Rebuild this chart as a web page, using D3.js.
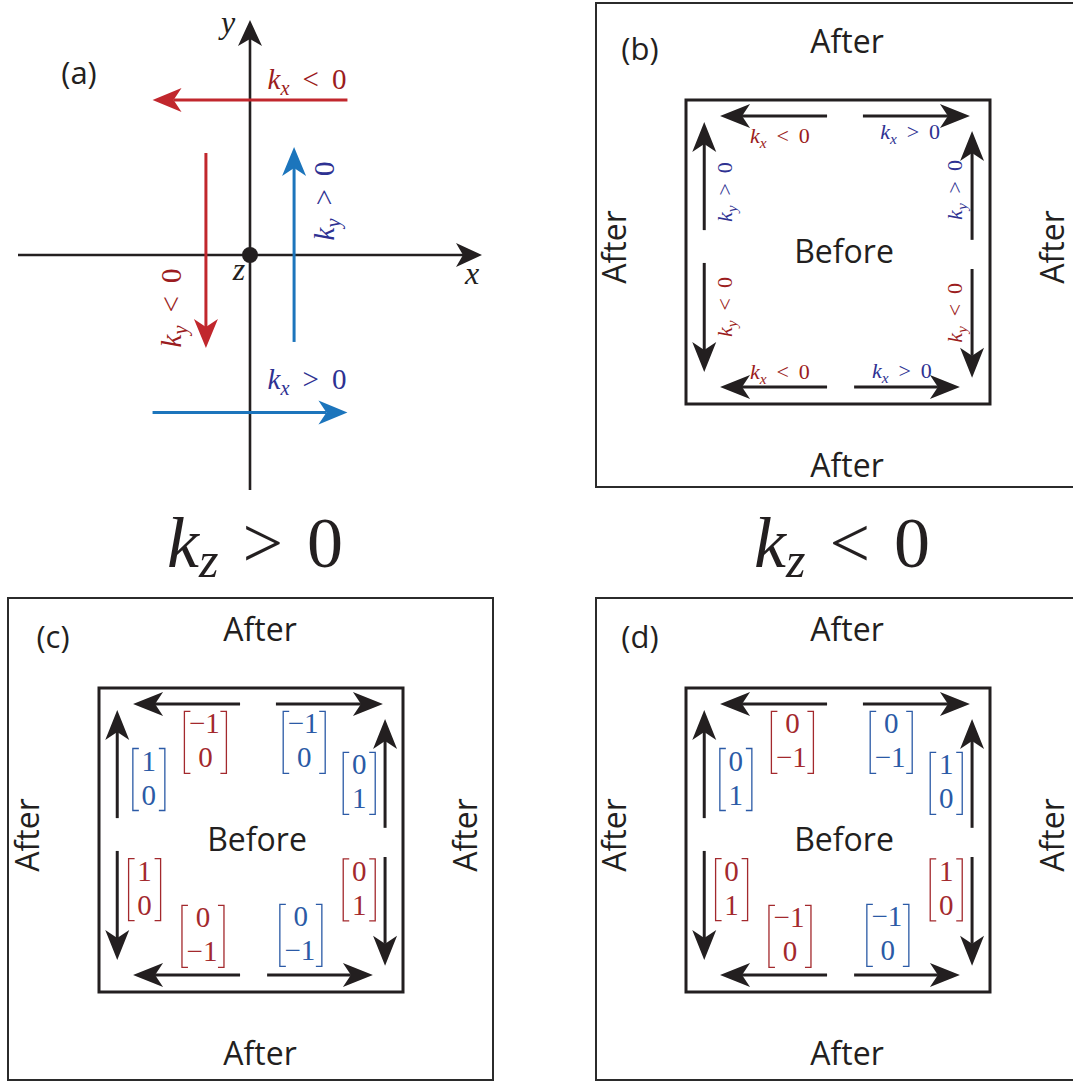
<!DOCTYPE html>
<html>
<head>
<meta charset="utf-8">
<title></title>
<style>
  body { margin: 0; background: #fff; }
  .sans { font-family: "Open Sans", sans-serif; fill: #231f20; }
</style>
</head>
<body>
<script src="https://cdnjs.cloudflare.com/ajax/libs/d3/7.8.5/d3.min.js"></script>
<script>

var w = 1073;
var h = 1081;
var serifFont = "'Liberation Serif', 'Times New Roman', 'DejaVu Serif', serif";

// ---------- data ----------
// panel (a): wave-vector arrows in axis units, [x1, y1, x2, y2]
var aArrowNames = ["kx<0", "ky<0", "ky>0", "kx>0"];
var aArrowSigns = ["neg", "neg", "pos", "pos"];
var aArrowPaths = [[0.42, 0.66, -0.42, 0.66],
                   [-0.19, 0.434, -0.19, -0.396],
                   [0.19, -0.37, 0.19, 0.46],
                   [-0.42, -0.67, 0.42, -0.67]];

// boxes (b)-(d): edge arrows in inner-box units (0..100)
var edgeArrows = [[46.4, 5.3, 11.2, 5.3],
                  [58.2, 5.3, 93.4, 5.3],
                  [6.0, 42.8, 6.0, 7.2],
                  [6.0, 53.6, 6.0, 89.5],
                  [94.1, 46.0, 94.1, 10.2],
                  [94.1, 55.6, 94.1, 91.4],
                  [46.4, 94.4, 11.2, 94.4],
                  [55.3, 94.4, 90.1, 94.4]];

// (b) labels: component, relation, rotated?
var bLabelSub = ["x", "x", "y", "y", "y", "y", "x", "x"];
var bLabelOp = ["<", ">", ">", "<", ">", "<", "<", ">"];
var bLabelRot = [false, false, true, true, true, true, false, false];
var bLabelPos = [[30.9, 11.8], [73.7, 10.5], [12.8, 30.3], [12.8, 68.1],
                 [88.5, 29.6], [88.5, 70.0], [30.9, 89.5], [71.0, 89.1]];

// (c) and (d) vectors
var matrixSlots = [[35.0, 17.9], [67.5, 17.9], [16.4, 30.1], [85.6, 31.4],
                   [15.0, 66.3], [34.2, 81.7], [66.4, 81.4], [85.6, 66.4]];
var matrixSigns = ["neg", "pos", "pos", "pos", "neg", "neg", "pos", "neg"];
var cMatrices = [["−1", "0"], ["−1", "0"], ["1", "0"], ["0", "1"],
                 ["1", "0"], ["0", "−1"], ["0", "−1"], ["0", "1"]];
var dMatrices = [["0", "−1"], ["0", "−1"], ["0", "1"], ["1", "0"],
                 ["0", "1"], ["−1", "0"], ["−1", "0"], ["1", "0"]];

var panelTags = ["(b)", "(c)", "(d)"];
var caseLabels = [">", "<"];

// ---------- style ----------
var arrowCol = { neg: "#c1272d", pos: "#1c75bc" };
var textCol = { neg: "#9b1c20", pos: "#2e3192" };
var matCol = { neg: "#a3292d", pos: "#2b5aa6" };
var ink = "#231f20";

var svg = d3.select("body").append("svg")
    .attr("width", w)
    .attr("height", h);

// arrowhead: tip at origin pointing +x
function headPath(L, hw, notch) {
    return "M0,0 L" + (-L) + "," + (-hw) + " L" + (-notch) + ",0 L" + (-L) + "," + hw + " Z";
}

function drawArrow(g, x1, y1, x2, y2, color, sw, L, hw, notch) {
    var ang = Math.atan2(y2 - y1, x2 - x1);
    var ex = x2 - Math.cos(ang) * notch, ey = y2 - Math.sin(ang) * notch;
    g.append("line")
        .attr("x1", x1).attr("y1", y1)
        .attr("x2", ex).attr("y2", ey)
        .attr("stroke", color)
        .attr("stroke-width", sw);
    g.append("path")
        .attr("d", headPath(L, hw, notch))
        .attr("fill", color)
        .attr("transform", "translate(" + x2 + "," + y2 + ") rotate(" + (ang * 180 / Math.PI) + ")");
}

// k_sub op 0, centered at (x, y) (y = baseline)
function mathLabel(g, x, y, sub, op, size, color, rot) {
    var t = g.append("text")
        .attr("font-family", serifFont)
        .attr("text-anchor", "middle")
        .attr("fill", color)
        .attr("font-size", size);
    if (rot) {
        t.attr("transform", "translate(" + x + "," + y + ") rotate(-90)");
    } else {
        t.attr("x", x).attr("y", y);
    }
    t.append("tspan").attr("font-style", "italic").text("k");
    t.append("tspan").attr("font-style", "italic")
        .attr("font-size", size * 0.7)
        .attr("dy", size * 0.22).text(sub);
    t.append("tspan").attr("dy", -size * 0.22)
        .text("\u2005\u2009" + op + "\u2005\u20090");
    return t;
}

// ---------- panel (a) ----------
var xA = d3.scaleLinear().domain([-1, 1]).range([18, 482]);
var yA = d3.scaleLinear().domain([-1, 1]).range([490, 20]);
var gA = svg.append("g");

drawArrow(gA, xA(-1), yA(0), xA(1), yA(0), ink, 2.6, 26, 12, 19);
drawArrow(gA, xA(0), yA(-1), xA(0), yA(1), ink, 2.6, 26, 12, 19);

aArrowPaths.forEach(function(p, i) {
    drawArrow(gA, xA(p[0]), yA(p[1]), xA(p[2]), yA(p[3]),
        arrowCol[aArrowSigns[i]], 3, 29, 12, 21);
});

gA.append("circle")
    .attr("cx", xA(0)).attr("cy", yA(0)).attr("r", 8)
    .attr("fill", ink);

[["y", -22, 13], ["x", xA(1) - xA(0) - 10, 29], ["z", -11, 25]].forEach(function(a) {
    gA.append("text")
        .attr("font-family", serifFont)
        .attr("x", xA(0) + a[1]).attr("y", yA(0) + (a[0] === "y" ? yA(1) - yA(0) : 0) + a[2])
        .attr("font-style", "italic").attr("font-size", 32).attr("fill", ink)
        .attr("text-anchor", "middle").text(a[0]);
});

gA.append("text").attr("class", "sans")
    .attr("x", 79).attr("y", 84)
    .attr("text-anchor", "middle").attr("font-size", 31)
    .text("(a)");

mathLabel(gA, 307, 89, "x", "<", 29, textCol.neg, false);
mathLabel(gA, 307, 389, "x", ">", 29, textCol.pos, false);
mathLabel(gA, 334, 201, "y", ">", 29, textCol.pos, true);
mathLabel(gA, 181, 308, "y", "<", 29, textCol.neg, true);

// ---------- k_z captions ----------
caseLabels.forEach(function(op, i) {
    var cx = i === 0 ? 255 : 842;
    var t = svg.append("text")
        .attr("font-family", serifFont)
        .attr("x", cx).attr("y", 567)
        .attr("text-anchor", "middle")
        .attr("font-size", 72)
        .attr("fill", ink);
    t.append("tspan").attr("font-style", "italic").text("k");
    t.append("tspan").attr("font-style", "italic").attr("font-size", 50)
        .attr("dy", 10).text("z");
    t.append("tspan").attr("dy", -10).text("\u2004" + op + "\u20040");
});

// ---------- panels (b), (c), (d) ----------
var innerOrigins = [[686, 100], [99, 688], [686, 688]];
var outerBoxes = [[596, 3, 488, 484], [8, 598, 485, 482], [596, 598, 488, 482]];
var innerSize = 304;

panelTags.forEach(function(tag, p) {
    var g = svg.append("g");
    var ox = innerOrigins[p][0], oy = innerOrigins[p][1];
    var sx = d3.scaleLinear().domain([0, 100]).range([ox, ox + innerSize]);
    var sy = d3.scaleLinear().domain([0, 100]).range([oy, oy + innerSize]);
    var ob = outerBoxes[p];

    g.append("rect")
        .attr("x", ob[0]).attr("y", ob[1])
        .attr("width", ob[2]).attr("height", ob[3])
        .attr("fill", "none").attr("stroke", "#2b2b2b").attr("stroke-width", 2);

    g.append("rect")
        .attr("x", sx(0)).attr("y", sy(0))
        .attr("width", innerSize).attr("height", innerSize)
        .attr("fill", "none").attr("stroke", ink).attr("stroke-width", 3);

    edgeArrows.forEach(function(a) {
        drawArrow(g, sx(a[0]), sy(a[1]), sx(a[2]), sy(a[3]), ink, 3, 30, 12, 22);
    });

    // text labels
    g.append("text").attr("class", "sans")
        .attr("x", ox - 46).attr("y", oy - 40)
        .attr("text-anchor", "middle").attr("font-size", 31).text(tag);
    g.append("text").attr("class", "sans")
        .attr("x", ox + 158).attr("y", oy + 163)
        .attr("text-anchor", "middle").attr("font-size", 32).text("Before");
    g.append("text").attr("class", "sans")
        .attr("x", ox + 161).attr("y", oy - 47)
        .attr("text-anchor", "middle").attr("font-size", 32).text("After");
    g.append("text").attr("class", "sans")
        .attr("x", ox + 161).attr("y", oy + 377)
        .attr("text-anchor", "middle").attr("font-size", 32).text("After");
    g.append("text").attr("class", "sans")
        .attr("transform", "translate(" + (ox - 60) + "," + (oy + 147) + ") rotate(-90)")
        .attr("text-anchor", "middle").attr("font-size", 32).text("After");
    g.append("text").attr("class", "sans")
        .attr("transform", "translate(" + (ox + 378) + "," + (oy + 147) + ") rotate(-90)")
        .attr("text-anchor", "middle").attr("font-size", 32).text("After");

    if (p === 0) {
        bLabelPos.forEach(function(pos, i) {
            var sign = bLabelOp[i] === "<" ? "neg" : "pos";
            var x = sx(pos[0]), y = sy(pos[1]);
            if (bLabelRot[i]) x += 7; else y += 7;
            mathLabel(g, x, y, bLabelSub[i], bLabelOp[i], 22, textCol[sign], bLabelRot[i]);
        });
    } else {
        var mats = p === 1 ? cMatrices : dMatrices;
        matrixSlots.forEach(function(slot, i) {
            var col = matCol[matrixSigns[i]];
            var cx = sx(slot[0]), cy = sy(slot[1]);
            var wide = mats[i][0].length > 1 || mats[i][1].length > 1;
            var half = wide ? 21 : 16;
            var hh = 31, serif = 6;
            var mg = g.append("g");
            [-1, 1].forEach(function(side) {
                var bx = cx + side * half;
                mg.append("path")
                    .attr("d", "M" + (bx - side * serif) + "," + (cy - hh) +
                        " L" + bx + "," + (cy - hh) + " L" + bx + "," + (cy + hh) +
                        " L" + (bx - side * serif) + "," + (cy + hh))
                    .attr("fill", "none").attr("stroke", col).attr("stroke-width", 1.3);
            });
            mats[i].forEach(function(v, r) {
                mg.append("text")
                    .attr("font-family", serifFont)
                    .attr("x", cx + (v.length > 1 ? -1 : 0))
                    .attr("y", cy + (r === 0 ? -9 : 25))
                    .attr("text-anchor", "middle")
                    .attr("font-size", 29)
                    .attr("fill", col)
                    .text(v);
            });
        });
    }
});

</script>
</body>
</html>
